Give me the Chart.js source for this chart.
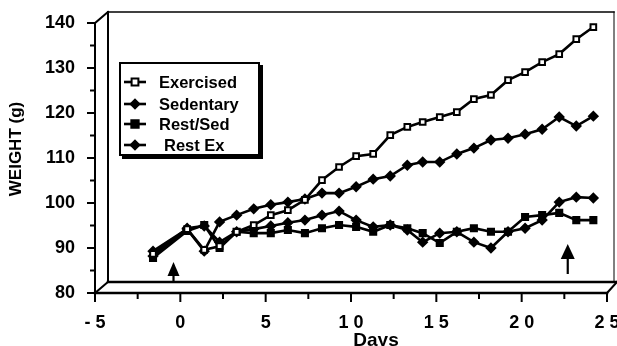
<!DOCTYPE html>
<html>
<head>
<meta charset="utf-8">
<script src="https://cdn.jsdelivr.net/npm/chart.js@4.4.0/dist/chart.umd.min.js"></script>
<style>
  html, body { margin: 0; padding: 0; background: #fff; }
  #wrap { position: relative; width: 617px; height: 346px; }
</style>
</head>
<body>
<div id="wrap"><canvas id="chart" width="617" height="346"></canvas></div>
<script>
// ---- data ----
const days = [-1.6, 0.4, 1.4, 2.3, 3.3, 4.3, 5.3, 6.3, 7.3, 8.3, 9.3, 10.3, 11.3,
              12.3, 13.3, 14.2, 15.2, 16.2, 17.2, 18.2, 19.2, 20.2, 21.2, 22.2, 23.2, 24.2];

const exercised = [88.7, 94.2, 89.6, 90.4, 93.6, 95.1, 97.3, 98.4, 100.7, 105.1, 108.0, 110.4, 110.9,
                   115.1, 116.9, 118.0, 119.1, 120.2, 123.1, 124.0, 127.3, 129.1, 131.3, 133.1, 136.4, 139.1];
const sedentary = [89.3, 94.2, 89.3, 95.8, 97.3, 98.7, 99.6, 100.2, 100.9, 102.2, 102.2, 103.6, 105.3,
                   106.0, 108.4, 109.1, 109.1, 110.9, 112.2, 114.0, 114.4, 115.3, 116.4, 119.1, 117.1, 119.3];
const restSed   = [87.8, 93.8, 95.1, 90.0, 93.6, 93.3, 93.3, 94.0, 93.3, 94.4, 95.1, 94.7, 93.6,
                   95.1, 94.4, 93.3, 91.1, 93.6, 94.4, 93.6, 93.6, 96.9, 97.3, 97.8, 96.2, 96.2];
const restEx    = [88.2, 94.4, 94.9, 91.3, 93.6, 94.2, 94.9, 95.6, 96.2, 97.3, 98.2, 96.2, 94.7,
                   95.1, 94.0, 91.3, 93.3, 93.6, 91.3, 90.0, 93.6, 94.4, 96.2, 100.2, 101.3, 101.1];

const seriesNames = ['Exercised', 'Sedentary', 'Rest/Sed', 'Rest Ex'];
const arrowDays   = [-0.4, 22.7];

const xMin = -5, xMax = 25, xStep = 5;
const yMin = 80, yMax = 140, yStep = 10;

// ---- look ----
const FONT = '"Liberation Sans", Arial, Helvetica, sans-serif';
const DEPTH_X = 13, DEPTH_Y = 11;

const styles = [
  { pointStyle: 'rect',    radius: 4,   fill: '#fff' },
  { pointStyle: 'rectRot', radius: 4.3, fill: '#000' },
  { pointStyle: 'rect',    radius: 4.3, fill: '#000' },
  { pointStyle: 'rectRot', radius: 4.3, fill: '#000' },
];

const allSeries = [exercised, sedentary, restSed, restEx];
const datasets = allSeries.map((vals, i) => ({
  label: seriesNames[i],
  data: vals.map((v, j) => ({ x: days[j], y: v })),
  borderColor: '#000',
  borderWidth: 2.6,
  pointStyle: styles[i].pointStyle,
  pointRadius: styles[i].radius,
  pointBackgroundColor: styles[i].fill,
  pointBorderColor: '#000',
  pointBorderWidth: 2,
  tension: 0,
  fill: false,
}));

function line(ctx, x1, y1, x2, y2, w) {
  ctx.lineWidth = w;
  ctx.beginPath();
  ctx.moveTo(x1, y1);
  ctx.lineTo(x2, y2);
  ctx.stroke();
}

// keep the plot box exactly where layout.padding puts it
function noLabelPadding(s) {
  s.paddingLeft = s.paddingRight = s.paddingTop = s.paddingBottom = 0;
}

// 3D box, ticks, arrows, titles
const frame = {
  id: 'frame',
  beforeDatasetsDraw(chart) {
    const { ctx, chartArea: a, scales: { x, y } } = chart;
    const L = a.left, R = a.right, T = a.top, B = a.bottom;
    ctx.save();
    ctx.strokeStyle = '#000';
    ctx.lineCap = 'square';
    // back wall + floor
    line(ctx, L + DEPTH_X, T - DEPTH_Y, L + DEPTH_X, B - DEPTH_Y, 2);
    line(ctx, L + DEPTH_X, T - DEPTH_Y, R + 7, T - DEPTH_Y, 1.5);
    line(ctx, R + 7, T - DEPTH_Y, R + 7, B - DEPTH_Y, 1);
    line(ctx, L + DEPTH_X, B - DEPTH_Y, chart.width, B - DEPTH_Y, 2.5);
    line(ctx, L, T, L + DEPTH_X, T - DEPTH_Y, 2);
    line(ctx, L, B, L + DEPTH_X, B - DEPTH_Y, 2);
    line(ctx, R, B, R + 10, B - DEPTH_Y, 2);
    // front axes
    line(ctx, L, T, L, B, 2);
    line(ctx, L, B, R, B, 2.5);
    ctx.lineCap = 'butt';
    // y ticks
    for (let v = yMin; v <= yMax; v += yStep / 2) {
      const py = y.getPixelForValue(v);
      const major = (v - yMin) % yStep === 0;
      line(ctx, L - (major ? 8 : 5), py, L, py, 2);
    }
    // x ticks
    for (let v = xMin; v <= xMax; v += xStep / 2) {
      const px = x.getPixelForValue(v);
      const major = (v - xMin) % xStep === 0;
      line(ctx, px, B, px, B + (major ? 9 : 6), 2);
    }
    // arrows on the floor
    const floor = B - DEPTH_Y;
    const arrows = [
      { px: x.getPixelForValue(arrowDays[0]), tip: floor - 20, base: floor - 6, half: 6 },
      { px: x.getPixelForValue(arrowDays[1]), tip: floor - 38, base: floor - 23, half: 7 },
    ];
    arrows.forEach((ar, i) => {
      ctx.fillStyle = '#000';
      ctx.beginPath();
      ctx.moveTo(ar.px, ar.tip);
      ctx.lineTo(ar.px + ar.half, ar.base);
      ctx.lineTo(ar.px - ar.half, ar.base);
      ctx.closePath();
      ctx.fill();
      line(ctx, ar.px, ar.base, ar.px, i === 0 ? floor : floor - 8, 2.2);
    });
    // axis titles
    ctx.fillStyle = '#000';
    ctx.font = 'bold 17px ' + FONT;
    ctx.textAlign = 'center';
    ctx.textBaseline = 'middle';
    ctx.save();
    ctx.translate(16, 149);
    ctx.rotate(-Math.PI / 2);
    ctx.fillText('WEIGHT (g)', 0, 0);
    ctx.restore();
    ctx.font = 'bold 19px ' + FONT;
    ctx.textBaseline = 'alphabetic';
    ctx.fillText('Days', 376, 346);
    ctx.restore();
  },
  afterDatasetsDraw(chart) {
    const { ctx } = chart;
    ctx.save();
    // legend box with drop shadow
    ctx.fillStyle = '#fff';
    ctx.fillRect(120, 63, 139, 92);
    ctx.fillStyle = '#000';
    ctx.fillRect(258, 65, 5, 94);
    ctx.fillRect(122, 154, 141, 5);
    ctx.strokeStyle = '#000';
    ctx.lineWidth = 2;
    ctx.strokeRect(120, 63, 139, 92);
    const rows = [82, 104, 124, 145];
    const textX = [159, 159, 159, 164];
    ctx.font = 'bold 16.5px ' + FONT;
    ctx.textAlign = 'left';
    ctx.textBaseline = 'middle';
    seriesNames.forEach((name, i) => {
      const yy = rows[i];
      line(ctx, 124, yy, 146, yy, 2.6);
      const s = styles[i];
      ctx.fillStyle = s.fill;
      ctx.lineWidth = 2;
      const r = s.radius;
      ctx.beginPath();
      if (s.pointStyle === 'rect') {
        ctx.rect(135 - r * 0.85, yy - r * 0.85, r * 1.7, r * 1.7);
      } else {
        ctx.moveTo(135, yy - r); ctx.lineTo(135 + r, yy);
        ctx.lineTo(135, yy + r); ctx.lineTo(135 - r, yy); ctx.closePath();
      }
      ctx.fill();
      ctx.stroke();
      ctx.fillStyle = '#000';
      ctx.fillText(name, textX[i], yy + 1);
    });
    ctx.restore();
  },
};

new Chart(document.getElementById('chart'), {
  type: 'line',
  data: { datasets },
  options: {
    responsive: false,
    animation: false,
    layout: { padding: { left: 0, right: 10, top: 23, bottom: 0 } },
    plugins: { legend: { display: false }, tooltip: { enabled: false } },
    scales: {
      x: {
        type: 'linear',
        min: xMin, max: xMax,
        afterFit: s => { s.height = 53; noLabelPadding(s); },
        grid: { display: false },
        border: { display: false },
        ticks: {
          stepSize: xStep,
          padding: 11,
          color: '#000',
          maxRotation: 0,
          font: { family: FONT, size: 18, weight: 'bold' },
          callback: v => v < 0 ? '- ' + Math.abs(v) : String(v).split('').join(' '),
        },
      },
      y: {
        min: yMin, max: yMax,
        afterFit: s => { s.width = 95; noLabelPadding(s); },
        grid: { display: false },
        border: { display: false },
        ticks: {
          stepSize: yStep,
          padding: 12,
          color: '#000',
          font: { family: FONT, size: 18, weight: 'bold' },
        },
      },
    },
  },
  plugins: [frame],
});
</script>
</body>
</html>
